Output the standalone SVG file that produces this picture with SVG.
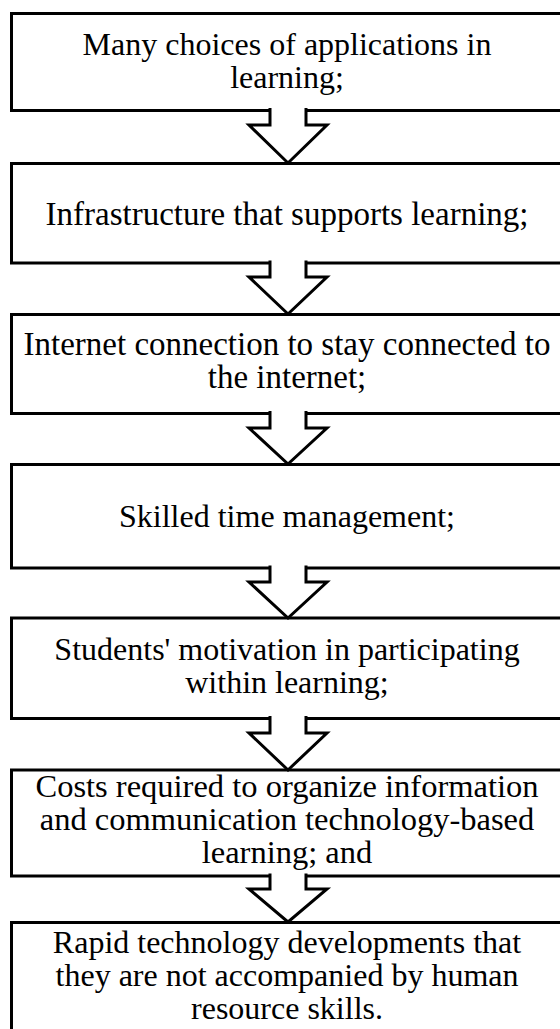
<svg xmlns="http://www.w3.org/2000/svg" width="560" height="1029" viewBox="0 0 560 1029">
<style>
.box{fill:#fff;stroke:#000;stroke-width:3}
.arr{fill:#fff;stroke:#000;stroke-width:3;stroke-linejoin:miter}
.t{font-family:"Liberation Serif","Times New Roman",serif;font-size:32px;fill:#000;text-anchor:middle}
.l{font-size:33px}
.m{font-size:32.5px}
</style>
<rect width="560" height="1029" fill="#fff"/>
<g id="n1"><rect class="box" x="11.5" y="13.5" width="560" height="97"/>
<text class="t" x="287" y="55">Many choices of applications in</text><text class="t" x="287" y="88">learning;</text></g>
<g id="n2"><rect class="box" x="11.5" y="163.5" width="560" height="99.5"/>
<text class="t l" x="287" y="225">Infrastructure that supports learning;</text></g>
<g id="n3"><rect class="box" x="11.5" y="314.5" width="560" height="99"/>
<text class="t l" x="287" y="355">Internet connection to stay connected to</text><text class="t l" x="287" y="388">the internet;</text></g>
<g id="n4"><rect class="box" x="11.5" y="464.5" width="560" height="103.5"/>
<text class="t" x="287" y="527">Skilled time management;</text></g>
<g id="n5"><rect class="box" x="11.5" y="618" width="560" height="100.5"/>
<text class="t" x="287" y="660">Students' motivation in participating</text><text class="t" x="287" y="693">within learning;</text></g>
<g id="n6"><rect class="box" x="11.5" y="770" width="560" height="106"/>
<text class="t m" x="287" y="797">Costs required to organize information</text><text class="t m" x="287" y="830">and communication technology-based</text><text class="t m" x="287" y="863">learning; and</text></g>
<g id="n7"><rect class="box" x="11.5" y="922.5" width="560" height="120"/>
<text class="t" x="287" y="953">Rapid technology developments that</text><text class="t" x="287" y="986">they are not accompanied by human</text><text class="t" x="287" y="1019">resource skills.</text></g>
<g id="connectors">
<path class="arr" d="M270,108 V125 H249 L288,163 L327,125 H306 V108"/>
<path class="arr" d="M270,260.5 V277 H249 L288,314 L327,277 H306 V260.5"/>
<path class="arr" d="M270,411 V428 H249 L288,464 L327,428 H306 V411"/>
<path class="arr" d="M270,565.5 V582 H249 L288,618 L327,582 H306 V565.5"/>
<path class="arr" d="M270,716 V733 H249 L288,770 L327,733 H306 V716"/>
<path class="arr" d="M270,873.5 V889 H249 L288,922 L327,889 H306 V873.5"/>
</g>
</svg>
